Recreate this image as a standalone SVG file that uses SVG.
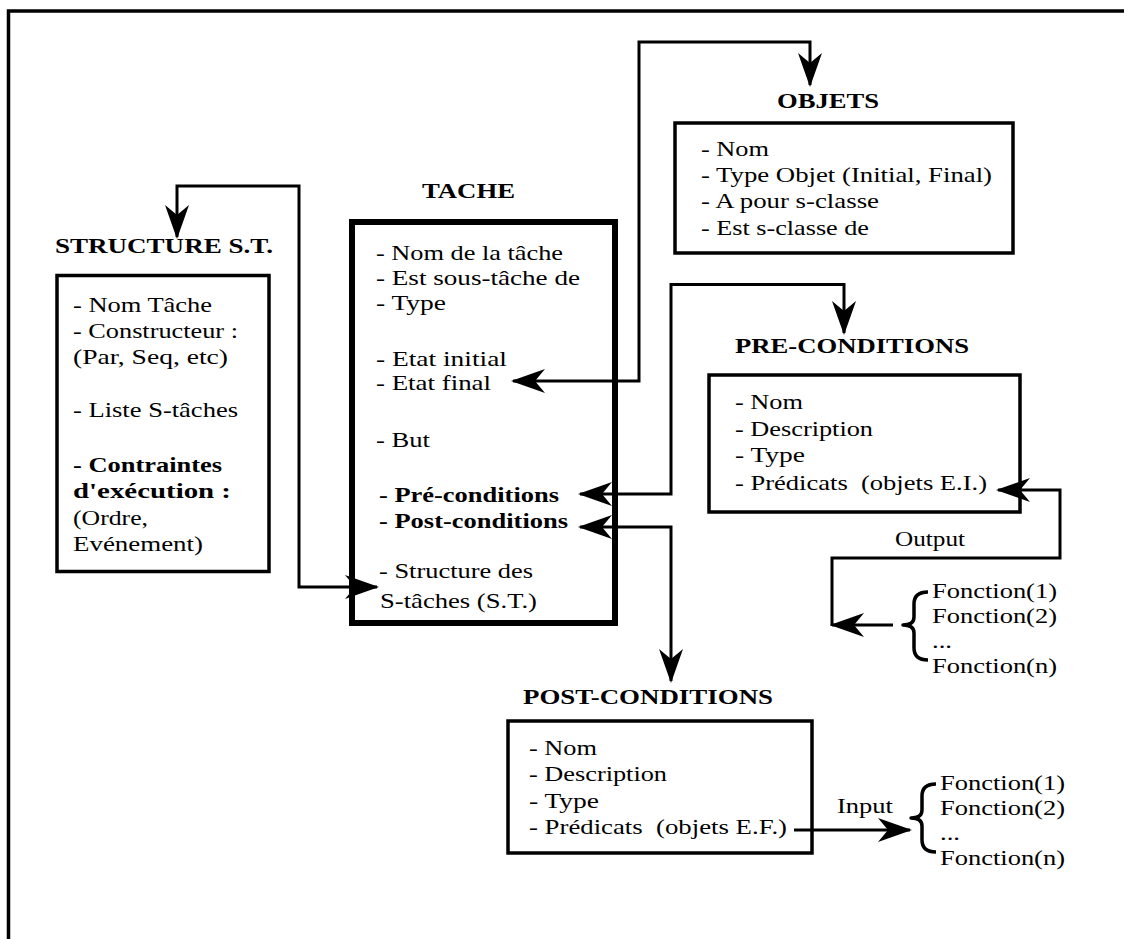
<svg xmlns="http://www.w3.org/2000/svg" width="1129" height="939" viewBox="0 0 1129 939">
<style>
.t{font-family:"Liberation Serif","Times New Roman",serif;font-size:22px;fill:#000}
.b{font-weight:bold}
.box{fill:none;stroke:#000;stroke-width:3.5}
.conn{fill:none;stroke:#000;stroke-width:3;marker-end:url(#arr)}
.both{marker-start:url(#arr)}
.brace{fill:none;stroke:#000;stroke-width:3.5;stroke-linejoin:round}
</style>
<defs>
<marker id="arr" viewBox="0 0 34 24" refX="32" refY="12" markerWidth="34" markerHeight="24" markerUnits="userSpaceOnUse" orient="auto-start-reverse">
<path d="M34,12 L0,0 L10,12 L0,24 Z" fill="#000"/>
</marker>
</defs>
<rect width="1129" height="939" fill="#fff"/>
<g id="frame" fill="none" stroke="#000" stroke-width="3.5">
<path d="M8.5,939 V11 H1124"/>
</g>

<g id="structure">
<text class="t b" x="55" y="253" textLength="218" lengthAdjust="spacingAndGlyphs">STRUCTURE S.T.</text>
<rect class="box" x="57" y="275.5" width="212" height="296"/>
<text class="t" x="73" y="312" textLength="139" lengthAdjust="spacingAndGlyphs">- Nom Tâche</text>
<text class="t" x="73" y="338" textLength="165" lengthAdjust="spacingAndGlyphs">- Constructeur :</text>
<text class="t" x="73" y="364" textLength="155" lengthAdjust="spacingAndGlyphs">(Par, Seq, etc)</text>
<text class="t" x="73" y="417" textLength="165" lengthAdjust="spacingAndGlyphs">- Liste S-tâches</text>
<text class="t b" x="73" y="472" textLength="149" lengthAdjust="spacingAndGlyphs">- Contraintes</text>
<text class="t b" x="73" y="498" textLength="158" lengthAdjust="spacingAndGlyphs">d'exécution :</text>
<text class="t" x="73" y="525" textLength="75" lengthAdjust="spacingAndGlyphs">(Ordre,</text>
<text class="t" x="73" y="551" textLength="130" lengthAdjust="spacingAndGlyphs">Evénement)</text>
</g>

<g id="tache">
<text class="t b" x="422" y="198" textLength="93" lengthAdjust="spacingAndGlyphs">TACHE</text>
<rect x="352" y="222" width="263" height="401" fill="none" stroke="#000" stroke-width="6"/>
<text class="t" x="376" y="260" textLength="187" lengthAdjust="spacingAndGlyphs">- Nom de la tâche</text>
<text class="t" x="376" y="285" textLength="204" lengthAdjust="spacingAndGlyphs">- Est sous-tâche de</text>
<text class="t" x="376" y="310" textLength="70" lengthAdjust="spacingAndGlyphs">- Type</text>
<text class="t" x="376" y="366" textLength="131" lengthAdjust="spacingAndGlyphs">- Etat initial</text>
<text class="t" x="376" y="390" textLength="115" lengthAdjust="spacingAndGlyphs">- Etat final</text>
<text class="t" x="376" y="447" textLength="54" lengthAdjust="spacingAndGlyphs">- But</text>
<text class="t b" x="379" y="502" textLength="180" lengthAdjust="spacingAndGlyphs">- Pré-conditions</text>
<text class="t b" x="379" y="528" textLength="189" lengthAdjust="spacingAndGlyphs">- Post-conditions</text>
<text class="t" x="379" y="578" textLength="154" lengthAdjust="spacingAndGlyphs">- Structure des</text>
<text class="t" x="380" y="608" textLength="157" lengthAdjust="spacingAndGlyphs">S-tâches (S.T.)</text>
</g>

<g id="objets">
<text class="t b" x="777" y="108" textLength="102" lengthAdjust="spacingAndGlyphs">OBJETS</text>
<rect class="box" x="675" y="123" width="338" height="130"/>
<text class="t" x="701" y="156" textLength="68" lengthAdjust="spacingAndGlyphs">- Nom</text>
<text class="t" x="701" y="182" textLength="291" lengthAdjust="spacingAndGlyphs">- Type Objet (Initial, Final)</text>
<text class="t" x="701" y="208" textLength="178" lengthAdjust="spacingAndGlyphs">- A pour s-classe</text>
<text class="t" x="701" y="235" textLength="168" lengthAdjust="spacingAndGlyphs">- Est s-classe de</text>
</g>

<g id="preconditions">
<text class="t b" x="735" y="353" textLength="234" lengthAdjust="spacingAndGlyphs">PRE-CONDITIONS</text>
<rect class="box" x="709" y="375" width="311" height="137"/>
<text class="t" x="735" y="409" textLength="68" lengthAdjust="spacingAndGlyphs">- Nom</text>
<text class="t" x="735" y="436" textLength="138" lengthAdjust="spacingAndGlyphs">- Description</text>
<text class="t" x="735" y="462" textLength="70" lengthAdjust="spacingAndGlyphs">- Type</text>
<text class="t" x="735" y="490" textLength="252" lengthAdjust="spacingAndGlyphs" xml:space="preserve">- Prédicats  (objets E.I.)</text>
</g>

<g id="postconditions">
<text class="t b" x="523" y="704" textLength="250" lengthAdjust="spacingAndGlyphs">POST-CONDITIONS</text>
<rect class="box" x="508" y="721" width="304" height="132"/>
<text class="t" x="529" y="755" textLength="68" lengthAdjust="spacingAndGlyphs">- Nom</text>
<text class="t" x="529" y="781" textLength="138" lengthAdjust="spacingAndGlyphs">- Description</text>
<text class="t" x="529" y="808" textLength="70" lengthAdjust="spacingAndGlyphs">- Type</text>
<text class="t" x="529" y="834" textLength="258" lengthAdjust="spacingAndGlyphs" xml:space="preserve">- Prédicats  (objets E.F.)</text>
</g>

<g id="fonctions-output">
<path class="brace" d="M928,592 Q914,592 914,604 L914,617 Q914,625 903,625 Q914,625 914,633 L914,648 Q914,660 928,660"/>
<text class="t" x="932" y="598" textLength="125" lengthAdjust="spacingAndGlyphs">Fonction(1)</text>
<text class="t" x="932" y="623" textLength="125" lengthAdjust="spacingAndGlyphs">Fonction(2)</text>
<text class="t" x="932" y="648" textLength="20" lengthAdjust="spacingAndGlyphs">...</text>
<text class="t" x="932" y="673" textLength="125" lengthAdjust="spacingAndGlyphs">Fonction(n)</text>
</g>

<g id="fonctions-input">
<path class="brace" d="M936,784 Q922,784 922,796 L922,810 Q922,818 911,818 Q922,818 922,826 L922,840 Q922,852 936,852"/>
<text class="t" x="940" y="790" textLength="125" lengthAdjust="spacingAndGlyphs">Fonction(1)</text>
<text class="t" x="940" y="815" textLength="125" lengthAdjust="spacingAndGlyphs">Fonction(2)</text>
<text class="t" x="940" y="840" textLength="20" lengthAdjust="spacingAndGlyphs">...</text>
<text class="t" x="940" y="865" textLength="125" lengthAdjust="spacingAndGlyphs">Fonction(n)</text>
</g>

<g id="connectors">
<path class="conn both" d="M177,237 V186 H299 V587 H377"/>
<path class="conn both" d="M513,381 H639 V42 H810 V85"/>
<path class="conn both" d="M580,494 H671 V284.5 H844 V333"/>
<path class="conn both" d="M580,527 H671 V681"/>
<path class="conn" d="M893,625 H832"/>
<path class="conn" d="M832,626 V558 H1060 V490 H998"/>
<path class="conn" d="M794,830 H910"/>
<text class="t" x="895" y="546" textLength="70" lengthAdjust="spacingAndGlyphs">Output</text>
<text class="t" x="837" y="813" textLength="56" lengthAdjust="spacingAndGlyphs">Input</text>
</g>
</svg>
